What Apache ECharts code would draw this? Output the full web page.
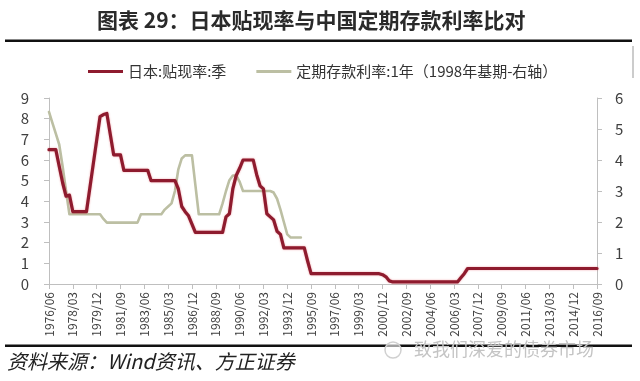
<!DOCTYPE html>
<html>
<head>
<meta charset="utf-8">
<script src="https://cdn.jsdelivr.net/npm/echarts@6/dist/echarts.min.js"></script>
<style>
html,body{margin:0;padding:0;background:#fff;}
#c{width:640px;height:381px;}
</style>
</head>
<body>
<div id="c"></div>
<script>
// ---- data ----
const titleText = '图表 29：日本贴现率与中国定期存款利率比对';
const sourceText = '资料来源：Wind资讯、方正证券';
const watermarkText = '致我们深爱的债券市场';
const seriesNames = ['日本:贴现率:季', '定期存款利率:1年（1998年基期-右轴）'];

// quarterly categories 1976/06 .. 2016/09
const quarterMonths = ['03', '06', '09', '12'];
const categories = [];
for (let y = 1976; y <= 2016; y++) {
  for (let q = 0; q < 4; q++) {
    if (y === 1976 && q < 1) continue;
    if (y === 2016 && q > 2) continue;
    categories.push(y + '/' + quarterMonths[q]);
  }
}

// Japan discount rate (left axis), one value per quarter
const japanRate = [
  6.5, 6.5, 6.5,                 // 1976
  5.7, 4.9, 4.25, 4.3,           // 1977
  3.5, 3.5, 3.5, 3.5,            // 1978
  3.5, 4.65, 5.8, 6.95,          // 1979
  8.1, 8.2, 8.25, 7.25,          // 1980
  6.25, 6.25, 6.25, 5.5,         // 1981
  5.5, 5.5, 5.5, 5.5,            // 1982
  5.5, 5.5, 5.5, 5.0,            // 1983
  5.0, 5.0, 5.0, 5.0,            // 1984
  5.0, 5.0, 5.0, 4.6,            // 1985
  3.75, 3.5, 3.3, 2.9,           // 1986
  2.5, 2.5, 2.5, 2.5,            // 1987
  2.5, 2.5, 2.5, 2.5,            // 1988
  2.5, 3.25, 3.4, 4.6,           // 1989
  5.25, 5.6, 6.0, 6.0,           // 1990
  6.0, 6.0, 5.3, 4.75,           // 1991
  4.6, 3.4, 3.25, 3.1,           // 1992
  2.55, 2.4, 1.75, 1.75,         // 1993
  1.75, 1.75, 1.75, 1.75,        // 1994
  1.75, 1.1, 0.5, 0.5,           // 1995
  0.5, 0.5, 0.5, 0.5,            // 1996
  0.5, 0.5, 0.5, 0.5,            // 1997
  0.5, 0.5, 0.5, 0.5,            // 1998
  0.5, 0.5, 0.5, 0.5,            // 1999
  0.5, 0.5, 0.5, 0.45,           // 2000
  0.35, 0.15, 0.1, 0.1,          // 2001
  0.1, 0.1, 0.1, 0.1,            // 2002
  0.1, 0.1, 0.1, 0.1,            // 2003
  0.1, 0.1, 0.1, 0.1,            // 2004
  0.1, 0.1, 0.1, 0.1,            // 2005
  0.1, 0.1, 0.3, 0.5,            // 2006
  0.75, 0.75, 0.75, 0.75,        // 2007
  0.75, 0.75, 0.75, 0.75,        // 2008
  0.75, 0.75, 0.75, 0.75,        // 2009
  0.75, 0.75, 0.75, 0.75,        // 2010
  0.75, 0.75, 0.75, 0.75,        // 2011
  0.75, 0.75, 0.75, 0.75,        // 2012
  0.75, 0.75, 0.75, 0.75,        // 2013
  0.75, 0.75, 0.75, 0.75,        // 2014
  0.75, 0.75, 0.75, 0.75,        // 2015
  0.75, 0.75, 0.75               // 2016
];

// China 1-year deposit rate, shifted (right axis)
const chinaDeposit = [
  5.55, 5.2, 4.85,               // 1976
  4.5, 3.8, 3.0, 2.25,           // 1977
  2.25, 2.25, 2.25, 2.25,        // 1978
  2.25, 2.25, 2.25, 2.25,        // 1979
  2.25, 2.1, 1.98, 1.98,         // 1980
  1.98, 1.98, 1.98, 1.98,        // 1981
  1.98, 1.98, 1.98, 1.98,        // 1982
  2.25, 2.25, 2.25, 2.25,        // 1983
  2.25, 2.25, 2.25, 2.4,         // 1984
  2.5, 2.6, 3.0, 3.7,            // 1985
  4.05, 4.15, 4.15, 4.15,        // 1986
  3.2, 2.25, 2.25, 2.25,         // 1987
  2.25, 2.25, 2.25, 2.25,        // 1988
  2.6, 3.0, 3.35, 3.5,           // 1989
  3.5, 3.3, 3.0, 3.0,            // 1990
  3.0, 3.0, 3.0, 3.0,            // 1991
  3.0, 3.0, 3.0, 2.95,           // 1992
  2.75, 2.4, 2.0, 1.6,           // 1993
  1.5, 1.5, 1.5, 1.5             // 1994
];

const leftTicks = [0, 9, 1];   // min, max, interval
const rightTicks = [0, 6, 1];

// ---- chart ----
const chart = echarts.init(document.getElementById('c'), null, {renderer: 'canvas'});
const axisGray = '#bfbfbf';
const labelColor = '#404040';
const font = '"Noto Sans CJK SC", "Noto Sans", sans-serif';

chart.setOption({
  backgroundColor: '#ffffff',
  animation: false,
  textStyle: {fontFamily: font},
  grid: {left: 49, right: 43, top: 98, bottom: 97, containLabel: false},
  legend: {
    left: 83, top: 59,
    itemWidth: 35, itemHeight: 3, itemGap: 30,
    icon: 'rect',
    textStyle: {fontSize: 15, color: '#333', fontFamily: font},
    data: seriesNames
  },
  xAxis: {
    type: 'category',
    boundaryGap: false,
    data: categories,
    axisLine: {lineStyle: {color: axisGray, width: 1}},
    axisTick: {show: true, interval: 6, length: 5, lineStyle: {color: axisGray}},
    axisLabel: {interval: 6, rotate: 90, fontSize: 12, color: labelColor, margin: 8, fontFamily: font},
    splitLine: {show: false}
  },
  yAxis: [
    {
      type: 'value', min: leftTicks[0], max: leftTicks[1], interval: leftTicks[2],
      axisLine: {show: true, lineStyle: {color: axisGray}},
      axisTick: {show: true, length: 5, lineStyle: {color: axisGray}},
      axisLabel: {fontSize: 15, color: labelColor, margin: 20, fontFamily: font},
      splitLine: {show: false}
    },
    {
      type: 'value', min: rightTicks[0], max: rightTicks[1], interval: rightTicks[2],
      position: 'right',
      axisLine: {show: true, lineStyle: {color: axisGray}},
      axisTick: {show: true, length: 5, lineStyle: {color: axisGray}},
      axisLabel: {fontSize: 15, color: labelColor, margin: 18, fontFamily: font},
      splitLine: {show: false}
    }
  ],
  series: [
    {
      name: seriesNames[0], type: 'line', yAxisIndex: 0,
      data: japanRate, symbol: 'none', smooth: false, z: 3,
      itemStyle: {color: '#8E1B2E'},
      lineStyle: {color: '#8E1B2E', width: 3.2, join: 'round', cap: 'round',
        shadowColor: 'rgba(220,40,50,0.45)', shadowBlur: 2}
    },
    {
      name: seriesNames[1], type: 'line', yAxisIndex: 1,
      data: chinaDeposit, symbol: 'none', smooth: false, z: 2,
      itemStyle: {color: '#BCBFA3'},
      lineStyle: {color: '#BCBFA3', width: 2.6, join: 'round', cap: 'round'}
    }
  ],
  graphic: [
    {type: 'text', left: 97, top: 10,
      style: {text: titleText, font: 'bold 21px ' + font, fill: '#2a2a2a'}},
    {type: 'rect', shape: {x: 5, y: 39.5, width: 627, height: 2.5}, style: {fill: '#111'}},
    {type: 'rect', shape: {x: 5, y: 344.5, width: 627, height: 2.5}, style: {fill: '#111'}},
    {type: 'line', shape: {x1: 633, y1: 46, x2: 633, y2: 78}, style: {stroke: '#999', lineWidth: 1}},
    {type: 'text', left: 414, top: 340,
      style: {text: watermarkText, font: '18px ' + font, fill: '#c4c4c4'}},
    {type: 'circle', shape: {cx: 393, cy: 350, r: 8}, style: {fill: 'rgba(255,255,255,0.6)', stroke: '#d0d0d0', lineWidth: 1.5}},
    {type: 'text', left: 7, top: 351,
      style: {text: sourceText, font: 'italic 20px ' + font, fill: '#222'}}
  ]
});
</script>
</body>
</html>
